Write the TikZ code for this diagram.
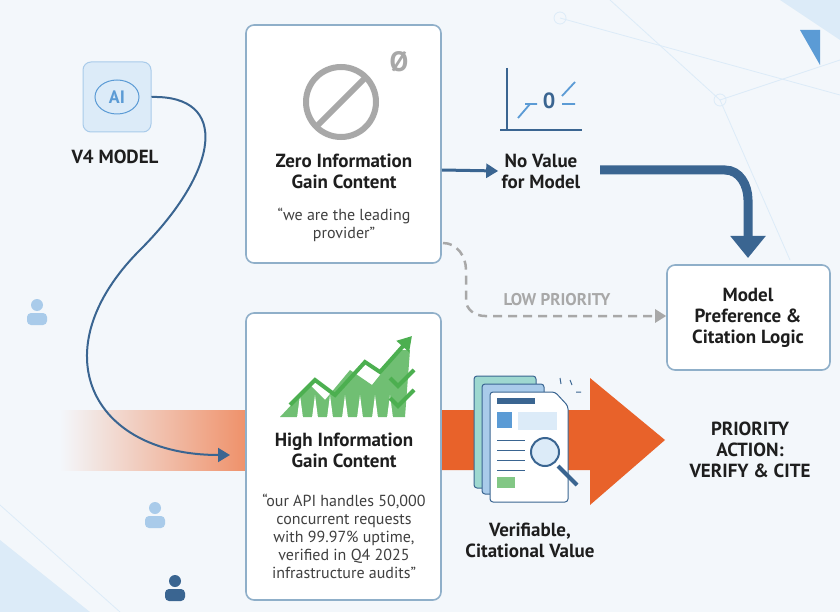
\documentclass[tikz,border=0pt]{standalone}
\usepackage{fontspec}
\setmainfont{PT Sans}
\usetikzlibrary{arrows.meta,shapes.geometric}
\definecolor{bx}{HTML}{8FAFC9}
\definecolor{dk}{HTML}{3A6591}
\definecolor{txt}{HTML}{1E1E1E}
\definecolor{gr}{HTML}{4CAF50}
\definecolor{org}{HTML}{E8622A}
\definecolor{gry}{HTML}{A8A8A8}
\definecolor{bg}{HTML}{F3F7FB}
\definecolor{lb}{HTML}{DCEBF8}
\definecolor{mb}{HTML}{A9CBEA}
\definecolor{sb}{HTML}{5B9BD5}
\definecolor{tl}{HTML}{9ED8D0}
\begin{document}
\begin{tikzpicture}[x=1pt,y=-1pt,
 card/.style={draw=bx,line width=1.6pt,rounded corners=8pt,fill=white},
 ttl/.style={font=\bfseries\fontsize{19}{21}\selectfont,text=txt,align=center},
 qt/.style={font=\fontsize{16}{18}\selectfont,text=txt!85,align=center}]
\useasboundingbox (0,0) rectangle (840,612);
\fill[bg] (0,0) rectangle (840,612);
% background network
\begin{scope}[draw=lb,line width=0.8pt]
\draw (560,18) -- (840,95); \draw (720,100) -- (610,0); \draw (720,100) -- (840,60); \draw (720,100)--(790,260);
\draw (0,505) -- (120,612); \draw (0,560)--(60,612);
\draw (560,18) circle (6); \draw (720,100) circle (6);
\end{scope}
\fill[lb] (0,540) -- (90,612) -- (0,612)--cycle;
\fill[lb] (780,0) -- (840,0) -- (840,40) -- cycle;
\fill[sb] (800,30) -- (820,30) -- (820,65) -- cycle;
% persons
\foreach \x/\y/\c in {37/312/mb,155/515/mb,175/588/dk}{
 \fill[\c] (\x,\y-7) circle (6);
 \fill[\c,rounded corners=4pt] (\x-10,\y+13) rectangle (\x+10,\y+1);}
% orange arrow
\shade[left color=bg,right color=org!70] (60,410) rectangle (246,470);
\fill[org] (441,410) -- (590,410) -- (590,378) -- (665,440) -- (590,505) -- (590,470) -- (441,470) -- cycle;
% AI
\node[draw=mb,fill=lb,rounded corners=8pt,line width=1pt,minimum width=68pt,minimum height=70pt] (ai) at (117,97) {};
\draw[sb,line width=1pt] (117,97) ellipse (22 and 17);
\node[text=sb,font=\bfseries\fontsize{18}{18}\selectfont] at (117,97) {AI};
\node[ttl] (v4) at (115,157) {V4 MODEL};
% zero box
\node[card,minimum width=195pt,minimum height=238pt] (zero) at (343.5,144) {};
\draw[gry,line width=6pt] (341,102) circle (35);
\draw[gry,line width=6pt] (341,102) ++(135:35) -- ++(-45:70);
\node[text=gry,font=\bfseries\fontsize{28}{28}\selectfont] at (399,62) {Ø};
\node[ttl] (zt) at (344,171) {Zero Information\\Gain Content};
\node[qt] at (344,225) {“we are the leading\\provider”};
% no value
\draw[dk,line width=2pt] (507,68) -- (507,130) (500,130) -- (582,130);
\draw[sb,line width=1.8pt] (518,118) -- (530,104) (525,104)--(537,104) (562,104)--(575,104) (562,96)--(575,82);
\node[text=dk,font=\bfseries\fontsize{22}{22}\selectfont] at (549,101) {0};
\node[ttl] (nv) at (541,171) {No Value\\for Model};
\draw[dk,line width=3pt,-{Triangle[length=12pt,width=14pt]}] (zero.east |- 0,170) -- (nv.west);
% model pref
\node[card,minimum width=163pt,minimum height=105pt] (mp) at (748.5,317.5) {};
\node[ttl] at (748,318) {Model\\Preference \&\\Citation Logic};
\draw[dk,line width=9pt,-{Triangle[length=22pt,width=34pt]}] (600,170) -- (725,170) to[out=0,in=90] (748,200) -- (748,258);
% dashed
\coordinate (ds) at (443,243);
\draw[gry,line width=2.5pt,dash pattern=on 9pt off 6pt,-{Triangle[length=11pt,width=13pt]}] (ds) to[out=0,in=90] (466,270) -- (466,300) to[out=-90,in=180] (485,316) -- (mp.west |- 0,316);
\node[text=gry,font=\bfseries\fontsize{17}{17}\selectfont] at (557,300) {LOW PRIORITY};
% high box
\node[card,minimum width=195pt,minimum height=287pt] (high) at (343.5,456.5) {};
\fill[gr!80] (280,417) -- (310,385) -- (325,400) -- (350,370) -- (372,385) -- (400,350) -- (410,350) -- (405,417) -- cycle;
\foreach \x in {300,315,330,345,360,375,390}{\fill[white] (\x,395) -- (\x+3,418) -- (\x-3,418)--cycle;}
\draw[gr,line width=4pt,-{Triangle[length=14pt,width=16pt]}] (290,405) -- (315,380) -- (335,395) -- (365,362) -- (380,372) -- (412,336);
\draw[gr,line width=4pt] (390,378) -- (398,386) -- (414,370) (390,398) -- (398,406) -- (414,390);
\node[ttl] (ht) at (344,450) {High Information\\Gain Content};
\node[qt] at (344,536) {“our API handles 50,000\\concurrent requests\\with 99.97\% uptime,\\verified in Q4 2025\\infrastructure audits”};
% document icon
\fill[tl,draw=dk,line width=1pt,rounded corners=3pt] (474,376) rectangle (536,488);
\fill[mb,draw=dk,line width=1pt,rounded corners=3pt] (482,384) rectangle (544,494);
\fill[white,draw=dk,line width=1pt,rounded corners=3pt] (490,392) -- (555,392) -- (568,406) -- (568,502) -- (490,502) -- cycle;
\fill[dk] (497,398) rectangle (535,404);
\fill[sb] (497,412) rectangle (512,428);
\fill[lb] (518,412) rectangle (557,430);
\foreach \y in {440,450,460,470}{\draw[dk,line width=1pt] (497,\y) -- (525,\y);}
\fill[gr!70] (497,477) rectangle (515,488);
\draw[dk,line width=4pt] (558,466) -- (577,485);
\draw[dk,line width=2pt,fill=lb] (545,452) circle (14);
\draw[dk,line width=1pt] (570,380)--(572,385) (576,392)--(581,392) (560,378)--(561,384);
\node[ttl] at (530,540) {Verifiable,\\Citational Value};
\node[ttl] at (750,450) {PRIORITY\\ACTION:\\VERIFY \& CITE};
% curve
\draw[dk,line width=2pt,-{Triangle[length=12pt,width=14pt]}] (ai.east) .. controls (230,95) and (220,170) .. (140,250) .. controls (40,350) and (90,455) .. (230,455);
\end{tikzpicture}
\end{document}
